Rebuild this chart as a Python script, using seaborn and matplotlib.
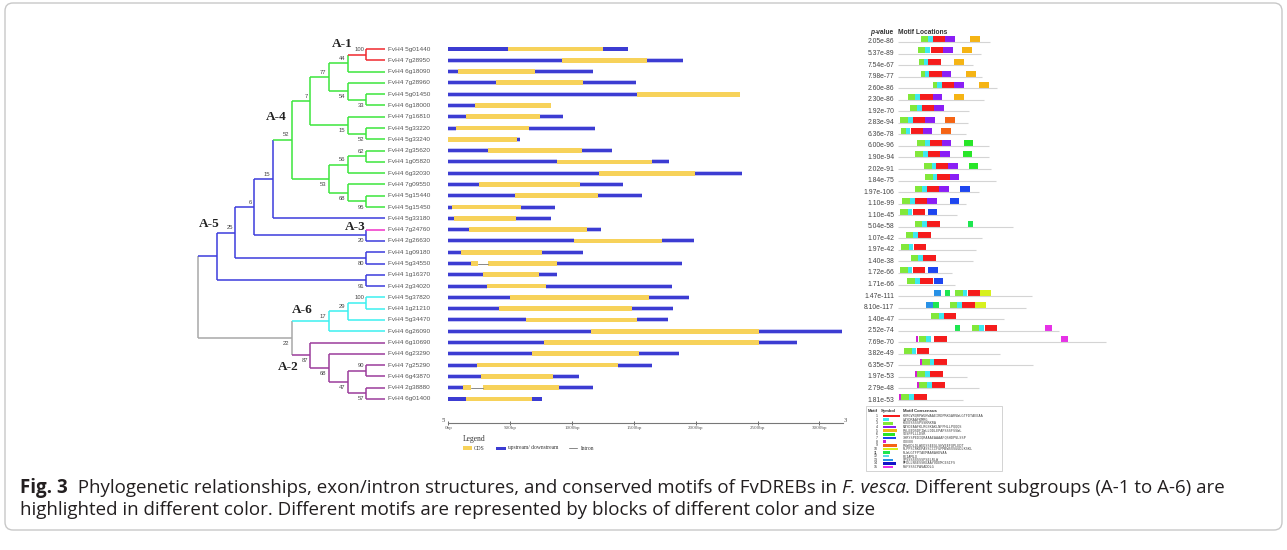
import matplotlib
matplotlib.use("Agg")
import matplotlib.pyplot as plt
import matplotlib.transforms as mtransforms
from matplotlib.patches import FancyBboxPatch, Rectangle
import seaborn as sns

W, H = 1287, 550

# leaves, top to bottom
genes = ["5g01440", "7g28950", "6g18090", "7g28960", "5g01450", "6g18000",
         "7g16810", "5g33220", "5g33240", "2g35620", "1g05820", "6g32030",
         "7g09550", "5g15440", "5g15450", "5g33180", "7g24760", "2g26630",
         "1g09180", "5g34550", "1g16370", "2g34020", "5g37820", "1g21210",
         "5g34470", "6g26090", "6g10690", "6g23290", "7g25290", "6g43870",
         "2g38880", "6g01400"]
leaf_group = ["A-1"] * 2 + ["A-4"] * 13 + ["A-5", "A-3"] + ["A-5"] * 5 + ["A-6"] * 4 + ["A-2"] * 6

group_colors = {"A-1": "#f0282d", "A-4": "#3ce63c", "A-5": "#3c3cdc", "A-3": "#f032c8",
                "A-6": "#3cf0f0", "A-2": "#9b3c9b", "root": "#a8a8a8"}

# (bootstrap, group, upper child, lower child)
tree = ("", "root",
        ("", "A-5",
         ("25", "A-5",
          ("6", "A-5",
           ("15", "A-5",
            ("52", "A-4",
             ("7", "A-4",
              ("77", "A-4",
               ("44", "A-4", ("100", "A-1", "5g01440", "7g28950"), "6g18090"),
               ("54", "A-4", "7g28960", ("33", "A-4", "5g01450", "6g18000"))),
              ("15", "A-4", "7g16810", ("52", "A-4", "5g33220", "5g33240"))),
             ("53", "A-4",
              ("56", "A-4", ("62", "A-4", "2g35620", "1g05820"), "6g32030"),
              ("68", "A-4", "7g09550", ("95", "A-4", "5g15440", "5g15450")))),
            "5g33180"),
           ("20", "A-5", "7g24760", "2g26630")),
          ("80", "A-5", "1g09180", "5g34550")),
         ("91", "A-5", "1g16370", "2g34020")),
        ("22", "root",
         ("17", "A-6", ("29", "A-6", ("100", "A-6", "5g37820", "1g21210"), "5g34470"), "6g26090"),
         ("87", "A-2", "6g10690",
          ("68", "A-2", "6g23290",
           ("47", "A-2", ("90", "A-2", "7g25290", "6g43870"), ("57", "A-2", "2g38880", "6g01400"))))))

# gene structures (bp)
utr5_bp = [480, 916, 75, 383, 1523, 216, 143, 62, 0, 318, 881, 1221, 245, 539, 27, 46,
           170, 1019, 102, 183, 283, 315, 499, 412, 631, 1153, 776, 679, 229, 261, 116, 143]
exon1_bp = [768, 687, 625, 709, 835, 614, 598, 588, 558, 765, 763, 776, 822, 674, 561, 501,
            954, 706, 652, 59, 453, 474, 1121, 1075, 895, 1358, 1738, 860, 1143, 582, 67, 536]
intron_bp = [0] * 19 + [75] + [0] * 10 + [100, 0]
exon2_bp = [0] * 19 + [563] + [0] * 10 + [609, 0]
utr3_bp = [208, 296, 472, 426, 0, 0, 189, 536, 24, 237, 143, 380, 348, 356, 275, 283,
           108, 264, 337, 1011, 140, 1021, 326, 331, 248, 674, 302, 323, 278, 213, 278, 75]
scale_ticks = [0, 500, 1000, 1500, 2000, 2500, 3000]

# motifs
p_values = ["2.05e-86", "5.37e-89", "7.54e-67", "7.98e-77", "2.60e-86", "2.30e-86", "1.92e-70",
            "2.83e-94", "6.36e-78", "6.00e-96", "1.90e-94", "2.02e-91", "1.84e-75", "1.97e-106",
            "1.10e-99", "1.10e-45", "5.04e-58", "1.07e-42", "1.97e-42", "1.40e-38", "1.72e-66",
            "1.71e-66", "1.47e-111", "8.10e-117", "1.40e-47", "2.52e-74", "7.69e-70", "3.82e-49",
            "6.35e-57", "1.97e-53", "2.79e-48", "1.81e-53"]
protein_len = [275, 247, 223, 250, 297, 257, 213, 210, 203, 273, 273, 277, 293, 242, 202, 177,
               345, 252, 233, 225, 162, 170, 400, 382, 318, 483, 622, 305, 405, 205, 242, 193]
motif_hits = [
    [(3, 67), (2, 90), (1, 103), (4, 141), (5, 215)],
    [(3, 59), (2, 81), (1, 97), (4, 134), (5, 192)],
    [(3, 63), (2, 77), (1, 90), (5, 167)],
    [(3, 67), (2, 80), (1, 93), (4, 130), (5, 203)],
    [(3, 103), (2, 117), (1, 130), (4, 167), (5, 243)],
    [(3, 28), (2, 51), (1, 66), (4, 103), (5, 167)],
    [(3, 35), (2, 57), (1, 72), (4, 107)],
    [(3, 5), (2, 30), (1, 44), (4, 80), (9, 140)],
    [(3, 9), (2, 22), (1, 37), (4, 73), (9, 127)],
    [(3, 57), (2, 80), (1, 94), (4, 130), (6, 196)],
    [(3, 51), (2, 74), (1, 89), (4, 125), (6, 193)],
    [(3, 77), (2, 100), (1, 114), (4, 150), (6, 211)],
    [(3, 80), (2, 103), (1, 117), (4, 154)],
    [(3, 49), (2, 72), (1, 86), (4, 123), (7, 186)],
    [(3, 12), (2, 35), (1, 50), (4, 86), (7, 154)],
    [(3, 6), (2, 28), (1, 43), (7, 89)],
    [(3, 49), (2, 72), (1, 86), (11, 208)],
    [(3, 23), (2, 45), (1, 60)],
    [(3, 8), (2, 31), (1, 46)],
    [(3, 37), (2, 59), (1, 75)],
    [(3, 5), (2, 28), (1, 43), (7, 90)],
    [(3, 27), (2, 50), (1, 65), (7, 107)],
    [(13, 107), (11, 139), (3, 170), (2, 193), (1, 208), (10, 246)],
    [(13, 83), (11, 105), (3, 154), (2, 177), (1, 192), (10, 230)],
    [(3, 99), (2, 122), (1, 136)],
    [(11, 170), (3, 222), (2, 243), (1, 259), (15, 439)],
    [(8, 53), (3, 61), (2, 83), (1, 107), (15, 487)],
    [(3, 17), (2, 40), (1, 55)],
    [(8, 65), (3, 72), (2, 94), (1, 108)],
    [(8, 50), (3, 57), (2, 80), (1, 95)],
    [(8, 56), (3, 63), (2, 86), (1, 101)],
    [(8, 2), (3, 9), (2, 32), (1, 47)],
]
motif_colors = ["#f51c1c", "#3ee8f0", "#82e83a", "#8a1ef5", "#f5b414", "#28e628", "#1e46f0",
                "#d21ed2", "#f56414", "#d7f01e", "#1ee650", "#5ad8e6", "#2891e6", "#1414c8", "#e632e6"]
motif_width = [38, 14, 23, 29, 30, 27, 28, 7, 30, 33, 16, 14, 22, 28, 23]
motif_consensus = ["KYRGVRQRPWGKWAAEIRDPRKGARVWLGTFDTAEEAA",
                   "LAYDRAAFKMRG",
                   "KEEESSSSPSSKRKRA",
                   "RAYDEAAFKLRGSKAKLNFPHLLPQQQS",
                   "PSLEEDSDFIWLLDDLEPAPSSSFSSWL",
                   "SDSPPLLLDSR",
                   "IHRYSPEDIQRAAAEAAAAFQSHDPVLSSP",
                   "GDEEN",
                   "PSWEDLDLWEDSSEEGLSHVEEFQPLEDT",
                   "RLPPSCRKEPASSCCIFGPMEWSSSGGDLKSKL",
                   "RLWLGTFPTAEMAARAHDVAA",
                   "PEIAMLQ",
                   "SPSSSSSSSSPSELRLW",
                   "MFDLLNSESSKEAAYVDEMCESIFS",
                   "RSFSSSCPAVADDLG"]

sns.set_theme(style="white")
plt.rcParams["font.family"] = ["Liberation Sans", "DejaVu Sans"]

fig = plt.figure(figsize=(W / 100, H / 100), dpi=100)
fig.patch.set_facecolor("white")
px = mtransforms.Affine2D().scale(1 / W, -1 / H).translate(0, 1) + fig.transFigure
renderer = fig.canvas.get_renderer()


def add_ax(x0, y0, x1, y1):
    a = fig.add_axes([x0 / W, 1 - y1 / H, (x1 - x0) / W, (y1 - y0) / H])
    a.set_facecolor("none")
    return a


# ---------------- tree ----------------
step, row = 18.7, 11.29
ax_t = add_ax(190, 25, 450, 475)
ax_t.set_xlim((190 - 385) / step, (450 - 385) / step)
ax_t.set_ylim((475 - 49) / row, (25 - 49) / row)
ax_t.axis("off")


def height(n):
    return 0 if isinstance(n, str) else 1 + max(height(n[2]), height(n[3]))


def ypos(n):
    return genes.index(n) if isinstance(n, str) else (ypos(n[2]) + ypos(n[3])) / 2


def draw(n, parent_x, first):
    x, y = -height(n), ypos(n)
    leaf = isinstance(n, str)
    col = group_colors[leaf_group[genes.index(n)]] if leaf else group_colors[n[1]]
    if parent_x is not None:
        ax_t.plot([parent_x, x], [y, y], color=col, lw=1.1, solid_capstyle="butt")
    if leaf:
        ax_t.text(0.18, y, "FvH4 " + n, fontsize=4.6, va="center", color="#555555")
        return
    ya, yb = ypos(n[2]), ypos(n[3])
    ax_t.plot([x, x], [ya, yb], color=col, lw=1.1, solid_capstyle="butt")
    if n[0]:
        ax_t.text(x - 0.12, y + (-0.45 if first else 0.5), n[0], fontsize=4.2,
                  ha="right", va="center", color="#444444")
    draw(n[2], x, True)
    draw(n[3], x, False)


draw(tree, None, True)

clade_pos = {"A-1": (-2.3, -0.45), "A-4": (-5.8, 6.0), "A-5": (-9.4, 15.5),
             "A-3": (-1.6, 15.75), "A-6": (-4.4, 23.1), "A-2": (-5.2, 28.2)}
for name, (cx, cy) in clade_pos.items():
    ax_t.text(cx, cy, name, fontsize=9.5, fontweight="bold", family="Liberation Serif",
              ha="center", va="center", color="#222222")

# ---------------- gene structure ----------------
bp_px = 0.1237
ax_g = add_ax(440, 25, 860, 423)
ax_g.set_xlim((440 - 448.3) / bp_px, (860 - 448.3) / bp_px)
ax_g.set_ylim((423 - 49) / row, (25 - 49) / row)
rows = list(range(len(genes)))
e1_start = utr5_bp
in_start = [a + b for a, b in zip(utr5_bp, exon1_bp)]
e2_start = [a + b for a, b in zip(in_start, intron_bp)]
u3_start = [a + b for a, b in zip(e2_start, exon2_bp)]

blue, yellow = "#3c3cd2", "#f7d25a"
ax_g.barh(rows, utr5_bp, left=0, height=0.44, color="#c4c4f4", lw=0)
ax_g.barh(rows, utr3_bp, left=u3_start, height=0.44, color="#c4c4f4", lw=0)
ax_g.barh(rows, utr5_bp, left=0, height=0.27, color=blue, lw=0)
ax_g.barh(rows, utr3_bp, left=u3_start, height=0.27, color=blue, lw=0)
ax_g.barh(rows, exon1_bp, left=e1_start, height=0.42, color=yellow, lw=0)
ax_g.barh(rows, exon2_bp, left=e2_start, height=0.42, color=yellow, lw=0)
for r, s, l in zip(rows, in_start, intron_bp):
    if l:
        ax_g.plot([s, s + l], [r, r], color="#888888", lw=0.7)

for side in ["top", "left", "right"]:
    ax_g.spines[side].set_visible(False)
ax_g.spines["bottom"].set_bounds(0, 3190)
ax_g.spines["bottom"].set_color("#777777")
ax_g.spines["bottom"].set_linewidth(0.8)
ax_g.set_yticks([])
ax_g.set_xticks(scale_ticks)
ax_g.set_xticklabels([f"{t}bp" for t in scale_ticks], family="Liberation Serif")
ax_g.tick_params(axis="x", direction="inout", length=3, width=0.6, labelsize=3.6, pad=1,
                 colors="#555555", bottom=True)
ax_g.grid(False)

fig.text(444, 420, "5'", transform=px, fontsize=4.5, family="Liberation Serif", color="#444444",
         ha="center", va="center")
fig.text(846, 420, "3'", transform=px, fontsize=4.5, family="Liberation Serif", color="#444444",
         ha="center", va="center")

# legend of gene structure
leg_kw = dict(transform=px, family="Liberation Serif", color="#333333", va="center")
fig.text(463, 439, "Legend", fontsize=5.5, **leg_kw)
fig.add_artist(Rectangle((463, 446.2), 9, 3.6, transform=px, color=yellow, lw=0))
fig.text(474, 448, "CDS", fontsize=4.0, **leg_kw)
fig.add_artist(Rectangle((496, 446.5), 10, 3.0, transform=px, color=blue, lw=0))
fig.text(508, 448, "upstream/ downstream", fontsize=4.0, **leg_kw)
fig.add_artist(plt.Line2D([569, 577], [448, 448], transform=px, color="#888888", lw=0.7))
fig.text(581, 448, "Intron", fontsize=4.0, **leg_kw)

# ---------------- motifs ----------------
mrow = 11.55
ax_m = add_ax(860, 25, 1120, 405)
ax_m.set_xlim((860 - 898.3) * 3, (1120 - 898.3) * 3)
ax_m.set_ylim((405 - 42) / mrow, (25 - 42) / mrow)
ax_m.axis("off")
ax_m.hlines(rows, 0, protein_len, color="#d4d4d4", lw=0.8)
for r, hits in enumerate(motif_hits):
    ids = [m for m, s in hits]
    ax_m.barh([r - 0.27] * len(hits), [motif_width[m - 1] for m in ids],
              left=[s for m, s in hits], height=0.52,
              color=[motif_colors[m - 1] for m in ids], lw=0)
for r, p in enumerate(p_values):
    ax_m.text(-12, r, p, ha="right", va="center", fontsize=4.9, color="#444444")

head_kw = dict(transform=px, fontsize=4.8, fontweight="bold", color="#333333", va="center")
tp = fig.text(870, 33, "p", style="italic", **head_kw)
fig.text(870 + tp.get_window_extent(renderer).width + 0.3, 33, "-value", **head_kw)
fig.text(898, 33, "Motif Locations", **head_kw)

# motif legend table
fig.add_artist(Rectangle((866, 406), 136, 65, transform=px, facecolor="white",
                         edgecolor="#cccccc", lw=0.6))
for lx, txt in [(868, "Motif"), (881, "Symbol"), (903, "Motif Consensus")]:
    fig.text(lx, 411, txt, transform=px, fontsize=3.1, fontweight="bold", color="#333333", va="center")
for i in range(15):
    yy = 416 + i * 3.65
    fig.text(878, yy, str(i + 1), transform=px, fontsize=2.6, color="#333333", ha="right", va="center")
    fig.add_artist(Rectangle((883, yy - 1.3), motif_width[i] * 0.45, 2.6, transform=px,
                             color=motif_colors[i], lw=0))
    fig.text(903, yy, motif_consensus[i], transform=px, fontsize=2.5, family="DejaVu Sans Mono",
             color="#444444", va="center")

# ---------------- caption and frame ----------------
fig.add_artist(FancyBboxPatch((5, 3), 1277, 527, boxstyle="round,pad=0,rounding_size=8",
                              transform=px, facecolor="none", edgecolor="#c8c8c8", lw=1.0))

cap_kw = dict(transform=px, fontsize=13.5, family="Open Sans", color="#231f20", va="center")
pieces = [("Fig. 3", {"fontweight": "bold"}),
          ("  Phylogenetic relationships, exon/intron structures, and conserved motifs of FvDREBs in ", {}),
          ("F. vesca", {"style": "italic"}),
          (". Different subgroups (A-1 to A-6) are", {})]
x = 20
for s, kw in pieces:
    t = fig.text(x, 488, s, **cap_kw, **kw)
    x += t.get_window_extent(renderer).width
fig.text(20, 510, "highlighted in different color. Different motifs are represented by blocks of different color and size",
         **cap_kw)

fig.savefig("out.png", dpi=100)
